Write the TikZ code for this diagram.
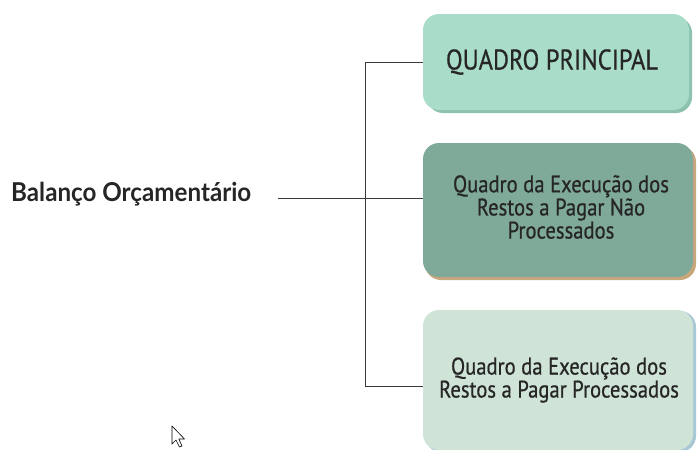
\documentclass[tikz,border=0pt]{standalone}
\usepackage{fontspec}
\setmainfont{PT Sans}[FakeStretch=0.86,FakeBold=0.6]
\newfontfamily\titlefont{Lato}[FakeStretch=0.93]
\definecolor{txt}{HTML}{262626}
\definecolor{lineC}{HTML}{3A3A3A}
\definecolor{fillA}{HTML}{A9DCC9}
\definecolor{shadA}{HTML}{8CC2AE}
\definecolor{fillB}{HTML}{7FAA99}
\definecolor{shadB}{HTML}{C9A67C}
\definecolor{fillC}{HTML}{CFE4D7}
\definecolor{shadC}{HTML}{A9C8D6}
\tikzset{
  box/.style={rounded corners=16pt, align=center, text=txt, inner sep=0pt},
  conn/.style={draw=lineC, line width=0.8pt},
}
\begin{document}
\begin{tikzpicture}[x=1pt,y=-1pt]
\useasboundingbox (0,0) rectangle (697,450);
\fill[white] (0,0) rectangle (697,450);
% shadows
\fill[shadA, rounded corners=16pt] (427,17) rectangle (692,113);
\fill[shadB, rounded corners=16pt] (425,146) rectangle (696,280);
\fill[shadC, rounded corners=16pt] (425,311) rectangle (696,452);
% boxes
\node[box, fill=fillA, minimum width=266pt, minimum height=96pt] (b1) at (556,62) {};
\node[text=txt, font=\fontsize{28.5}{30}\selectfont, inner sep=0pt] at (552,62) {QUADRO PRINCIPAL};
\node[box, fill=fillB, minimum width=270pt, minimum height=134pt] (b2) at (558,210) {};
\node[text=txt, align=center, font=\fontsize{24}{21.5}\selectfont, inner sep=0pt] at (561,207) {Quadro da Execução dos\\Restos a Pagar Não\\Processados};
\node[box, fill=fillC, minimum width=270pt, minimum height=140pt] (b3) at (558,380) {};
\node[text=txt, align=center, font=\fontsize{24}{20}\selectfont, inner sep=0pt] at (559,380) {Quadro da Execução dos\\Restos a Pagar Processados};
% title
\node[anchor=west, text=txt, font=\titlefont\bfseries\fontsize{26}{28}\selectfont, inner sep=0pt] (t) at (11,194) {Balanço Orçamentário};
% connectors
\coordinate (j) at (365,198);
\draw[conn] (t.east |- j) ++(27,0) -- (j -| b2.west);
\draw[conn] (b1.west) -| (j);
\draw[conn] (j) |- ([yshift=-6pt]b3.west);
% cursor
\draw[black, fill=white, line width=0.6pt, line join=round]
  (172,426) -- (172,444) -- (176,440) -- (179.5,447) -- (182,446) -- (178.8,439) -- (184.5,439) -- cycle;
\end{tikzpicture}
\end{document}
